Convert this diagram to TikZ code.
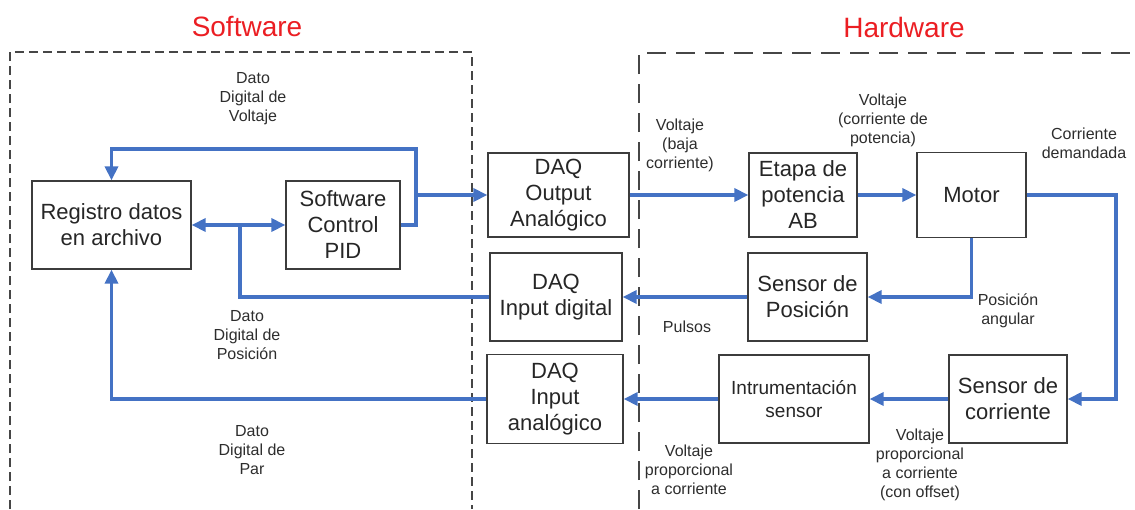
\documentclass[tikz,border=0pt]{standalone}
\usepackage{fontspec}
\setmainfont{Liberation Sans}
\usetikzlibrary{arrows.meta}
\definecolor{flowblue}{RGB}{68,114,196}
\definecolor{boxgray}{RGB}{60,60,60}
\definecolor{dashgray}{RGB}{70,70,70}
\definecolor{txtgray}{RGB}{45,45,45}
\definecolor{titlered}{RGB}{235,30,35}
\tikzset{
  blk/.style={draw=boxgray, line width=1.3pt, fill=white, align=center, inner sep=2pt,
    font=\fontsize{22}{26}\selectfont, text=black!85},
  lbl/.style={align=center, inner sep=0pt, font=\fontsize{16}{19}\selectfont, text=txtgray},
  ttl/.style={inner sep=0pt, font=\fontsize{28}{32}\selectfont, text=titlered},
  flow/.style={draw=flowblue, line width=3.5pt},
  arr/.style={flow, -{Triangle[length=14pt,width=13pt]}},
  darr/.style={flow, {Triangle[length=14pt,width=13pt]}-{Triangle[length=14pt,width=13pt]}},
  swdash/.style={draw=dashgray, line width=1.3pt, dash pattern=on 9pt off 5pt},
  hwdash/.style={draw=dashgray, line width=1.3pt, dash pattern=on 19pt off 10pt},
}
\begin{document}
\begin{tikzpicture}[x=1pt,y=-1pt]
\useasboundingbox (0,0) rectangle (1135,509);
% frames
\draw[swdash] (10,509) -- (10,52) -- (472,52) -- (472,509);
\draw[hwdash] (639,509) -- (639,53) -- (1135,53);
\node[ttl] (tsw) at (247,27) {Software};
\node[ttl] (thw) at (904,27) {Hardware};
% blocks
\node[blk, minimum width=159pt, minimum height=88pt] (reg) at (111.5,225) {Registro datos\\en archivo};
\node[blk, minimum width=114pt, minimum height=88pt] (pid) at (343,225) {Software\\Control\\PID};
\node[blk, minimum width=141pt, minimum height=84pt] (dout) at (558.5,195) {DAQ\\Output\\Analógico};
\node[blk, minimum width=108pt, minimum height=84pt] (eta) at (803,195) {Etapa de\\potencia\\AB};
\node[blk, minimum width=109pt, minimum height=85pt] (mot) at (971.5,195) {Motor};
\node[blk, minimum width=132pt, minimum height=88pt] (ddig) at (556,297) {DAQ\\Input digital};
\node[blk, minimum width=119pt, minimum height=88pt] (spos) at (807.5,297) {Sensor de\\Posición};
\node[blk, minimum width=136pt, minimum height=89pt] (dan) at (555,399) {DAQ\\Input\\analógico};
\node[blk, minimum width=150pt, minimum height=88pt, font=\fontsize{19}{23}\selectfont] (ins) at (794,399) {Intrumentación\\sensor};
\node[blk, minimum width=118pt, minimum height=88pt] (scor) at (1008,399) {Sensor de\\corriente};
% junction coordinates
\coordinate (jv) at (416,149);
\coordinate (jd) at (240,225);
\coordinate (jm) at (1116,399);
% connectors
\draw[arr] (pid.east) -| (jv) -| (reg.north);
\draw[arr] (jv |- dout.west) -- (dout.west);
\draw[darr] (reg.east) -- (pid.west);
\draw[flow] (ddig.west) -| (jd);
\draw[arr] (dan.west) -| (reg.south);
\draw[arr] (dout.east) -- (eta.west);
\draw[arr] (eta.east) -- (mot.west);
\draw[arr] (mot.east) -| (jm) -- (scor.east);
\draw[arr] (mot.south) |- (spos.east);
\draw[arr] (spos.west) -- (ddig.east);
\draw[arr] (scor.west) -- (ins.east);
\draw[arr] (ins.west) -- (dan.east);
% labels
\node[lbl] (l1) at (253,99) {Dato\\Digital de\\Voltaje};
\node[lbl] (l2) at (680,145) {Voltaje\\(baja\\corriente)};
\node[lbl] (l3) at (883,120) {Voltaje\\(corriente de\\potencia)};
\node[lbl] (l4) at (1084,143) {Corriente\\demandada};
\node[lbl] (l5) at (247,335) {Dato\\Digital de\\Posición};
\node[lbl] (l6) at (252,450) {Dato\\Digital de\\Par};
\node[lbl] (l7) at (687,327) {Pulsos};
\node[lbl] (l8) at (1008,311) {Posición\\angular};
\node[lbl] (l9) at (689,470) {Voltaje\\proporcional\\a corriente};
\node[lbl] (l10) at (920,465) {Voltaje\\proporcional\\a corriente\\(con offset)};
\end{tikzpicture}
\end{document}
